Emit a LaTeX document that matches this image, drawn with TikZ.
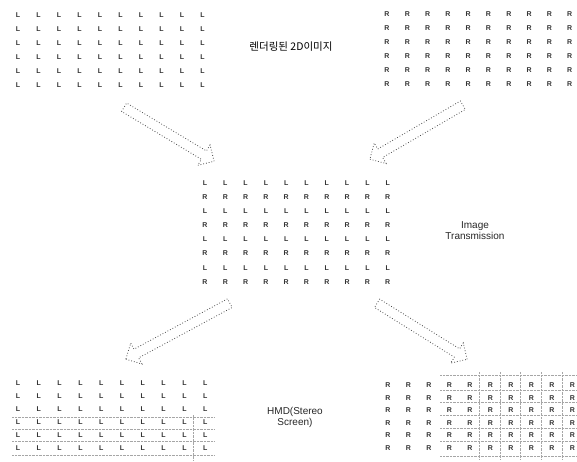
\documentclass[tikz,border=0pt]{standalone}
\usepackage{fontspec}
\setmainfont{Liberation Sans}
\newfontfamily\kofont{Noto Sans CJK KR}
\usetikzlibrary{arrows.meta, positioning, shapes.arrows, calc}

\begin{document}
\begin{tikzpicture}[x=1pt, y=-1pt,
  cell/.style={font=\fontsize{7}{7}\selectfont\bfseries, text=black!80, inner sep=0pt},
  caption/.style={font=\fontsize{10}{11}\selectfont, align=center, text=black!85},
  fatarr/.style={single arrow, draw=black!70, dotted, line width=0.8pt, inner xsep=0pt,
               inner ysep=4.5pt, single arrow head extend=7pt, sloped, allow upside down, midway},
  gridln/.style={black!35, densely dotted}
]
  \useasboundingbox (0,0) rectangle (577,462);

  % rendered left / right images
  \foreach \i in {0,...,9}
    \foreach \j in {0,...,5} {
      \node[cell] (tl-\i-\j) at (18+20.5*\i, 15+14*\j) {L};
      \node[cell] (tr-\i-\j) at (387+20.3*\i, 14+14*\j) {R};
    }
  \node[font=\kofont\fontsize{10.5}{11}\selectfont] (lbl2d) at (291,47) {렌더링된 2D이미지};

  % transmitted image, rows interleaved
  \foreach \j/\c in {0/L,1/R,2/L,3/R,4/L,5/R,6/L,7/R}
    \foreach \i in {0,...,9}
      \node[cell] (ct-\i-\j) at (205+20.3*\i, 183+14.1*\j) {\c};
  \node[caption] (lbltx) at (475,231) {Image\\Transmission};

  % stereo screen
  \foreach \y in {417,429,441,455}
    \draw[gridln] (12,\y) -- (214,\y);
  \draw[gridln] (193,415) -- (193,460);
  \foreach \y in {375,390,402,415,428,441,456}
    \draw[gridln] (440,\y) -- (577,\y);
  \foreach \x in {479,500,520,541,562}
    \draw[gridln] (\x,372) -- (\x,460);
  \foreach \i in {0,...,9}
    \foreach \j in {0,...,5} {
      \node[cell] (bl-\i-\j) at (18+20.8*\i, 383+13*\j) {L};
      \node[cell] (br-\i-\j) at (388+20.5*\i, 385+12.6*\j) {R};
    }
  \node[caption] (lblhmd) at (295,417) {HMD(Stereo\\Screen)};

  % arrows
  \coordinate (a1s) at (122,106);  \coordinate (a1e) at (212,160);
  \coordinate (a2s) at (465,104);  \coordinate (a2e) at (372,158);
  \coordinate (a3s) at (232,302);  \coordinate (a3e) at (128,358);
  \coordinate (a4s) at (375,302);  \coordinate (a4e) at (465,358);
  \foreach \k in {1,...,4}
    \path let \p1=($(a\k e)-(a\k s)$), \n1={veclen(\x1,\y1)} in
      (a\k s) -- node[fatarr, minimum height=\n1] (arr\k) {} (a\k e);
\end{tikzpicture}
\end{document}
